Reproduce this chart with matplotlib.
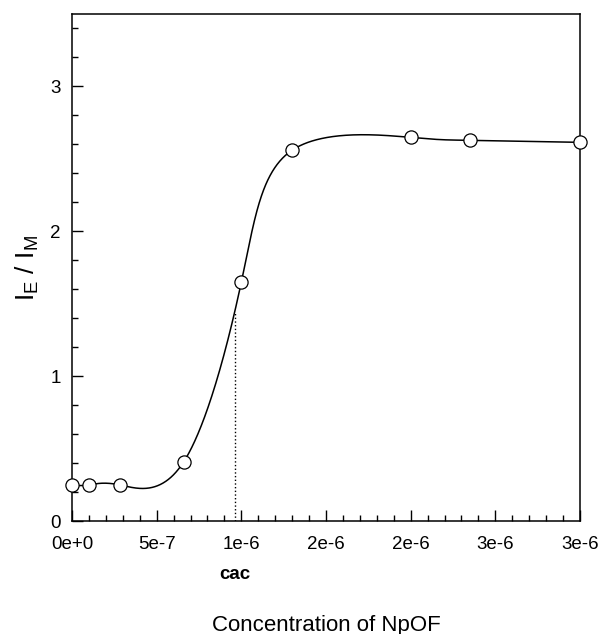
import numpy as np
import matplotlib

matplotlib.use("Agg")
import matplotlib.pyplot as plt  # noqa: E402
from matplotlib.ticker import FixedLocator, MultipleLocator  # noqa: E402

# data
conc = [0.0, 1.0e-7, 2.83e-7, 6.6e-7, 1.0e-6, 1.30e-6, 2.0e-6, 2.35e-6, 3.0e-6]
ratio = [0.248, 0.25, 0.25, 0.41, 1.65, 2.56, 2.648, 2.628, 2.614]
cac = 0.96e-6
xticks = [0.0, 0.5e-6, 1.0e-6, 1.5e-6, 2.0e-6, 2.5e-6, 3.0e-6]
xtick_labels = ["0e+0", "5e-7", "1e-6", "2e-6", "2e-6", "3e-6", "3e-6"]
yticks = [0, 1, 2, 3]


def natural_spline(t, y, ts):
    t = np.asarray(t, float)
    y = np.asarray(y, float)
    n = len(t)
    h = np.diff(t)
    A = np.zeros((n, n))
    b = np.zeros(n)
    A[0, 0] = A[-1, -1] = 1
    for i in range(1, n - 1):
        A[i, i - 1] = h[i - 1]
        A[i, i] = 2 * (h[i - 1] + h[i])
        A[i, i + 1] = h[i]
        b[i] = 3 * ((y[i + 1] - y[i]) / h[i] - (y[i] - y[i - 1]) / h[i - 1])
    c = np.linalg.solve(A, b)
    idx = np.clip(np.searchsorted(t, ts) - 1, 0, n - 2)
    dx = ts - t[idx]
    hi = h[idx]
    bb = (y[idx + 1] - y[idx]) / hi - hi * (2 * c[idx] + c[idx + 1]) / 3
    d = (c[idx + 1] - c[idx]) / (3 * hi)
    return y[idx] + bb * dx + c[idx] * dx ** 2 + d * dx ** 3


# parametric spline through the points (uniform parameter), like the original smooth line
knots = np.arange(len(conc), dtype=float)
ts = np.linspace(0, knots[-1], 2000)
curve_x = natural_spline(knots, conc, ts)
curve_y = natural_spline(knots, ratio, ts)
order = np.argsort(curve_x)
y_cac = np.interp(cac, curve_x[order], curve_y[order])

plt.rcParams["font.family"] = ["Liberation Sans", "DejaVu Sans"]

fig = plt.figure(figsize=(6.02, 6.34), dpi=100)
ax = fig.add_axes([0.1196, 0.178, 0.8439, 0.8])

ax.plot(curve_x, curve_y, color="black", lw=1.1, zorder=2)
ax.plot(conc, ratio, "o", ms=9.5, mfc="white", mec="black", mew=0.9,
        clip_on=False, zorder=3)
ax.plot([cac, cac], [0, y_cac], color="black", ls=":", lw=1.0, zorder=1)

ax.set_xlim(0, 3e-6)
ax.set_ylim(0, 3.5)
ax.xaxis.set_major_locator(FixedLocator(xticks))
ax.set_xticklabels(xtick_labels)
ax.xaxis.set_minor_locator(MultipleLocator(1e-7))
ax.set_yticks(yticks)
ax.yaxis.set_minor_locator(MultipleLocator(0.2))

ax.tick_params(which="both", direction="in", top=False, right=False,
               labelsize=13.5, width=1)
ax.tick_params(axis="x", which="major", length=8, pad=11)
ax.tick_params(axis="y", which="major", length=8, pad=8)
ax.tick_params(which="minor", length=4)
for s in ax.spines.values():
    s.set_linewidth(1.1)

ax.text(cac, -0.365, "cac", ha="center", va="center",
        fontsize=13.5, fontweight="bold")
ax.set_xlabel("Concentration of NpOF", fontsize=16, labelpad=44)
ax.set_ylabel(r"I$_\mathregular{E}$ / I$_\mathregular{M}$", fontsize=19, labelpad=7)

fig.savefig("out.png", dpi=100)
